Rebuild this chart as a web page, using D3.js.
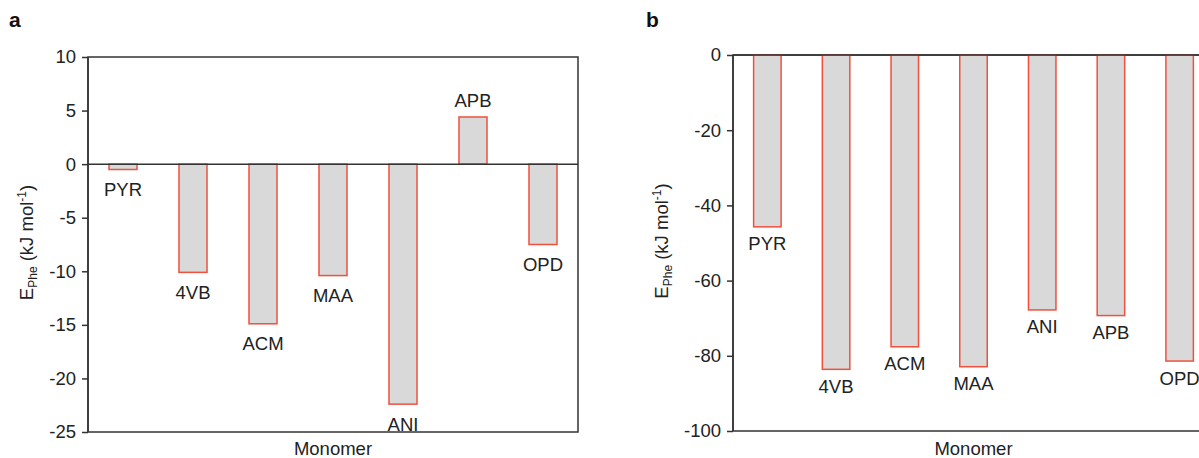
<!DOCTYPE html>
<html>
<head>
<meta charset="utf-8">
<script src="https://cdn.jsdelivr.net/npm/d3@7"></script>
<style>
    body { margin: 0; background: #fff; }
    svg { display: block; font-family: "Liberation Sans", Arial, Helvetica, sans-serif; }
    .axis path, .axis line { stroke: #333; stroke-width: 1.5; }
    .axis text { font-size: 18.5px; fill: #222; }
</style>
</head>
<body>
<div id="chart"></div>
<script>
const monomers = ['PYR', '4VB', 'ACM', 'MAA', 'ANI', 'APB', 'OPD'];
const valuesA = [-0.5, -10.1, -14.9, -10.4, -22.4, 4.4, -7.5];
const valuesB = [-45.7, -83.6, -77.6, -82.9, -67.8, -69.3, -81.4];
const ticksA = [10, 5, 0, -5, -10, -15, -20, -25];
const ticksB = [0, -20, -40, -60, -80, -100];

const svg = d3.select('#chart')
    .append('svg')
    .attr('width', 1199)
    .attr('height', 458);

function buildPanel(opts) {
    const { letter, values, ticks, domain, left, right, top, bottom, labelGap, letterX, titleX } = opts;
    const g = svg.append('g');

    const x = d3.scaleBand().domain(monomers).range([left, right]).paddingInner(0.6).paddingOuter(0.3);
    const y = d3.scaleLinear().domain(domain).range([bottom, top]);

    // frame
    g.append('rect')
        .attr('x', left).attr('y', top)
        .attr('width', right - left).attr('height', bottom - top)
        .attr('fill', 'none').attr('stroke', '#333').attr('stroke-width', 1.5);

    g.selectAll('.bar')
        .data(values)
        .enter()
        .append('rect')
        .attr('class', 'bar')
        .attr('x', (d, i) => x(monomers[i]))
        .attr('width', x.bandwidth())
        .attr('y', d => y(Math.max(0, d)))
        .attr('height', d => Math.abs(y(d) - y(0)))
        .attr('fill', '#d9d9d9')
        .attr('stroke', '#f0503c')
        .attr('stroke-width', 1.5);

    // zero line
    g.append('line')
        .attr('x1', left).attr('x2', right)
        .attr('y1', y(0)).attr('y2', y(0))
        .attr('stroke', '#333').attr('stroke-width', 1.5);

    g.append('g')
        .attr('class', 'axis')
        .attr('transform', `translate(${left},0)`)
        .call(d3.axisLeft(y).tickValues(ticks).tickFormat(d => String(d)).tickSize(6).tickPadding(6).tickSizeOuter(0))
        .call(a => a.select('.domain').remove());

    g.append('line')
        .attr('x1', left).attr('x2', left)
        .attr('y1', top).attr('y2', bottom)
        .attr('stroke', '#333').attr('stroke-width', 1.5);

    g.selectAll('.bar-label')
        .data(values)
        .enter()
        .append('text')
        .attr('class', 'bar-label')
        .attr('x', (d, i) => x(monomers[i]) + x.bandwidth() / 2)
        .attr('y', d => d >= 0 ? y(d) - labelGap + 4 : y(d) + labelGap)
        .attr('dy', '0.35em')
        .attr('text-anchor', 'middle')
        .attr('font-size', 18.5)
        .attr('fill', '#222')
        .text((d, i) => monomers[i]);

    g.append('text')
        .attr('x', (left + right) / 2)
        .attr('y', 449)
        .attr('dy', '0.35em')
        .attr('text-anchor', 'middle')
        .attr('font-size', 18.5)
        .attr('fill', '#222')
        .text('Monomer');

    const ylab = g.append('text')
        .attr('transform', `translate(${titleX},${(top + bottom) / 2 - 2}) rotate(-90)`)
        .attr('text-anchor', 'middle')
        .attr('dy', '0.35em')
        .attr('font-size', 18.5)
        .attr('fill', '#222');
    ylab.append('tspan').text('E');
    ylab.append('tspan').attr('font-size', 12).attr('dy', 4).text('Phe');
    ylab.append('tspan').attr('dy', -4).text(' (kJ mol');
    ylab.append('tspan').attr('font-size', 12).attr('dy', -7).text('-1');
    ylab.append('tspan').attr('dy', 7).text(')');

    g.append('text')
        .attr('x', letterX)
        .attr('y', 27)
        .attr('font-size', 21)
        .attr('font-weight', 'bold')
        .attr('fill', '#111')
        .text(letter);
}

buildPanel({
    letter: 'a', values: valuesA, ticks: ticksA, domain: [-25, 10],
    left: 88, right: 578, top: 57, bottom: 432, labelGap: 20, letterX: 9, titleX: 27
});

buildPanel({
    letter: 'b', values: valuesB, ticks: ticksB, domain: [-100, 0],
    left: 733, right: 1214, top: 55, bottom: 431, labelGap: 17, letterX: 646, titleX: 662
});
</script>
</body>
</html>
